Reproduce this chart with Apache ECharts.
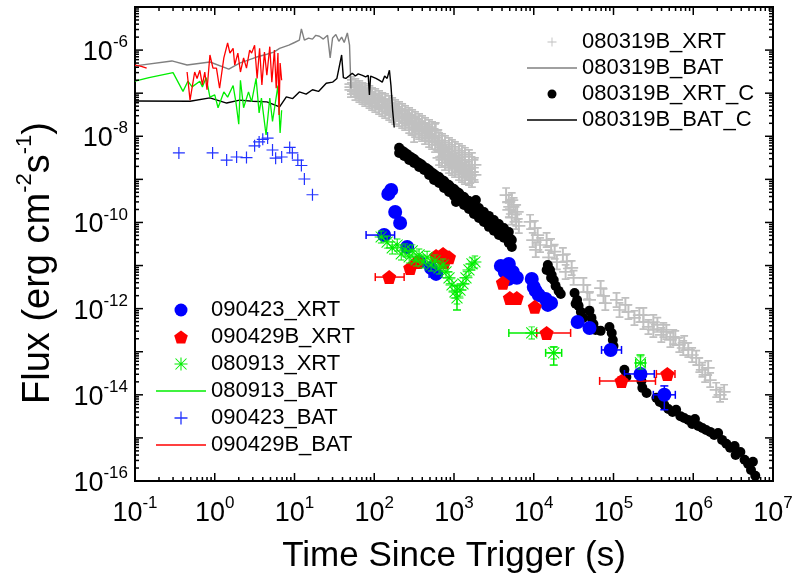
<!DOCTYPE html>
<html><head><meta charset="utf-8">
<script src="https://cdn.jsdelivr.net/npm/echarts@6/dist/echarts.min.js"></script>
<style>html,body{margin:0;padding:0;background:#fff}#c{width:794px;height:584px}</style>
</head><body><div id="c"></div>
<script>
// ---------------- data (time in s, flux in erg cm^-2 s^-1) ----------------
const xTickValues = [1e-1, 1e0, 1e1, 1e2, 1e3, 1e4, 1e5, 1e6, 1e7];
const yTickValues = [1e-16, 1e-14, 1e-12, 1e-10, 1e-8, 1e-6];

const bat080319B = [[0.1,4.3e-7],[0.29,5.6e-7],[0.45,4.5e-7],[0.87,5.3e-7],[1.5,3.6e-7],[2.05,5.0e-7],[3.35,6.9e-7],[4.5,8e-7],[5.5,9e-7],[6.5,1.1e-6],[8.5,1.3e-6],[10,1.5e-6],[11.5,1.7e-6],[12.2,3.1e-6],[13.3,1.7e-6],[15,1.9e-6],[16.8,1.8e-6],[18.5,2.2e-6],[20.5,2.1e-6],[23,1.8e-6],[26,2.2e-6],[28,6.6e-7],[30,1.9e-6],[33,2.3e-6],[36,1.6e-6],[39,2.0e-6],[42,1.5e-6],[46,2.5e-6],[49,1.3e-6],[51,1.3e-7]];

const batC080319B = [[0.1,6.6e-8],[0.49,6.5e-8],[0.87,7.8e-8],[1.41,5.9e-8],[2.05,6.9e-8],[3.0,6.5e-8],[4.5,6.3e-8],[6.5,4.8e-8],[7.9,8.2e-8],[9.5,7.5e-8],[11.5,1.07e-7],[14,9.5e-8],[16.8,1.2e-7],[20,1.1e-7],[25,1.7e-7],[30,1.8e-7],[34,2.2e-7],[39,7.7e-7],[41,2.3e-7],[44,2.2e-7],[48,2.5e-7],[53,2.9e-7],[58,2.5e-7],[63,2.8e-7],[71,2.6e-7],[78,2.4e-7],[84,2.6e-7],[87,9.1e-8],[90,2.5e-7],[95,2.6e-7],[105,2.2e-7],[115,2.0e-7],[126,1.8e-7],[135,2.5e-7],[145,2.2e-7],[155,3.4e-7],[162,1.5e-7],[170,4e-8],[178,1.6e-8]];

const bat080913 = [[0.1,1.9e-7],[0.15,2.3e-7],[0.3,3.0e-7],[0.4,1.1e-7],[0.46,1.9e-7],[0.52,1.4e-7],[0.65,1.9e-7],[0.7,1.4e-7],[0.78,2.3e-7],[0.87,8.1e-8],[1.0,9.1e-8],[1.1,4.6e-8],[1.3,1.07e-7],[1.45,8.1e-8],[1.7,1.5e-7],[1.85,5.9e-8],[2.0,1.9e-8],[2.1,2.0e-7],[2.3,4.6e-8],[2.65,1.07e-7],[2.9,6.3e-8],[3.3,2.2e-7],[3.6,3.5e-8],[3.85,7.7e-8],[4.3,1.5e-8],[4.4,1.07e-8],[4.9,7.7e-8],[5.3,2.2e-8],[6.2,1.5e-7],[6.6,1.2e-8],[6.9,4e-8]];

const bat090429B = [[0.1,4.5e-7],[0.12,4.2e-7],[0.14,3.8e-7],[0.2,'-'],[0.45,3.1e-7],[0.49,6.9e-8],[0.56,3.1e-7],[0.6,2.2e-7],[0.65,3.4e-7],[0.7,1.55e-7],[0.75,3.1e-7],[0.8,1.2e-7],[0.87,7.7e-7],[0.95,3.8e-7],[1.05,3.8e-7],[1.15,1.3e-7],[1.3,6.6e-7],[1.45,1.46e-6],[1.55,8.5e-7],[1.7,1.1e-6],[1.78,4.5e-7],[1.95,8.5e-7],[2.1,3.1e-7],[2.3,6.6e-7],[2.5,3.8e-7],[2.74,1.0e-6],[2.9,8.5e-7],[3.16,1.3e-6],[3.4,2.2e-7],[3.65,1.1e-6],[3.9,1.55e-7],[4.2,9e-7],[4.5,2.6e-7],[4.9,1.2e-6],[5.2,1.8e-7],[5.6,1.0e-6],[5.9,1.3e-7],[6.2,8.5e-7],[6.4,3.1e-8],[6.6,5e-7],[6.9,2.0e-7]];

const bat090423 = [[0.355,4.1e-9],[0.94,4.1e-9],[1.41,2.8e-9],[1.88,3.3e-9],[2.5,3.2e-9],[3.16,6.0e-9],[3.6,7.4e-9],[4.0,8.5e-9],[4.6,9.1e-9],[5.3,4.8e-9],[5.8,3.1e-9],[6.9,3.3e-9],[8.7,5.5e-9],[9.4,4.1e-9],[11.0,2.8e-9],[12.2,2.1e-9],[13.3,1.02e-9],[16.8,4.4e-10]];

const xrt080319B = [
 [51,1.63e-7],[51,1.39e-7],[51,1.19e-7],[58,1.47e-7],[58,1.22e-7],[58,1.01e-7],[60,1.2e-7],[65,1.32e-7],[65,1.1e-7],[65,9.1e-8],
 [71,1.19e-7],[71,9.9e-8],[71,8.2e-8],[77,1.12e-7],[77,9.0e-8],[77,7.3e-8],[82,9e-8],[87,1.01e-7],[87,8.2e-8],[87,6.6e-8],
 [94,9.1e-8],[94,7.3e-8],[94,5.9e-8],[103,8.6e-8],[103,6.8e-8],[103,5.3e-8],[110,6.6e-8],[115,7.7e-8],[115,6.1e-8],[115,4.8e-8],
 [126,6.95e-8],[126,5.5e-8],[126,4.3e-8],[137,6.6e-8],[137,5.0e-8],[137,3.86e-8],[145,5e-8],
 [154,5.9e-8],[154,4.5e-8],[154,3.47e-8],[168,5.3e-8],[168,4.1e-8],[168,3.12e-8],[183,4.8e-8],[183,3.7e-8],[183,2.8e-8],[190,3.9e-8],
 [205,4.3e-8],[205,3.3e-8],[205,2.52e-8],[224,3.86e-8],[224,2.95e-8],[224,2.26e-8],[244,3.47e-8],[244,2.66e-8],[244,2.04e-8],[260,2.8e-8],
 [274,3.12e-8],[274,2.32e-8],[274,1.73e-8],[299,2.8e-8],[299,2.09e-8],[299,1.56e-8],[316,1.07e-8],[325,2.52e-8],[325,1.88e-8],[325,1.40e-8],[340,2.0e-8],
 [365,2.26e-8],[365,1.69e-8],[365,1.26e-8],[398,2.04e-8],[398,1.52e-8],[398,1.13e-8],[434,1.83e-8],[434,1.33e-8],[434,9.6e-9],[460,1.3e-8],
 [487,1.64e-8],[487,1.16e-8],[487,8.2e-9],[531,1.48e-8],[531,1.05e-8],[531,7.4e-9],[579,1.33e-8],[579,9.2e-9],[579,6.3e-9],[590,1.4e-8],
 [620,7e-9],[649,8.2e-9],[649,4.8e-9],[649,3.14e-9],[680,5e-9],[708,7.8e-9],[708,4.32e-9],[708,2.82e-9],[740,4.2e-9],
 [772,7.0e-9],[772,3.7e-9],[772,2.40e-9],[820,3.6e-9],[866,6.3e-9],[866,3.31e-9],[866,2.05e-9],[900,3.0e-9],
 [944,5.65e-9],[944,2.97e-9],[944,1.84e-9],[990,2.6e-9],[1029,5.07e-9],[1029,2.67e-9],[1029,1.65e-9],[1090,2.2e-9],
 [1155,4.56e-9],[1155,2.40e-9],[1155,1.41e-9],[1200,1.9e-9],[1259,4.1e-9],[1259,2.16e-9],[1259,1.27e-9],[1300,1.6e-9],
 [1372,3.7e-9],[1372,1.94e-9],[1372,1.14e-9],[1450,1.4e-9],[1540,3.31e-9],[1540,1.74e-9],[1540,1.08e-9],[1600,1.2e-9],
 [1679,2.82e-9],[1679,1.49e-9],[1679,9.7e-10],[1830,2.16e-9],[1830,1.27e-9],
 [4500,4.3e-10],[5300,3.3e-10],[5600,2.55e-10],[4870,1.95e-10],[6200,1.75e-10],[5300,1.3e-10],[6000,1.03e-10],[6500,8.3e-11],[4870,3.0e-10],[5900,1.57e-10],[5000,2.3e-10],
 [9000,1.03e-10],[10300,7.4e-11],[11200,5.1e-11],[9700,3.9e-11],[12000,3.0e-11],[10600,2.3e-11],
 [14500,3.9e-11],[16500,2.85e-11],[18300,2.1e-11],[15400,1.55e-11],[19500,1.2e-11],
 [23200,1.76e-11],[26000,1.25e-11],[29900,8.8e-12],[25100,7.1e-12],[31600,5.2e-12],
 [42000,3.55e-12],[47000,2.44e-12],[50000,1.59e-12],
 [69000,3.0e-12],[75000,1.97e-12],[79000,1.35e-12],
 [1.09e5,1.59e-12],[1.19e5,9.3e-13],[1.41e5,1.22e-12],[1.54e5,8.4e-13],[1.83e5,6.1e-13],[2.11e5,7.1e-13],
 [2.37e5,4.9e-13],[2.37e5,7.1e-13],[2.74e5,3.76e-13],[3.16e5,3.2e-13],[3.16e5,4.9e-13],[3.55e5,4.2e-13],
 [3.98e5,2.45e-13],[4.22e5,3.2e-13],[4.6e5,2.88e-13],[5.16e5,1.88e-13],[5.62e5,2.2e-13],[5.96e5,2.09e-13],
 [6.68e5,1.44e-13],[7.5e5,1.22e-13],[7.7e5,1.6e-13],[8.66e5,1.10e-13],[9.7e5,8.4e-14],[1.09e6,7.2e-14],
 [1.19e6,4.9e-14],[1.3e6,3.8e-14],[1.41e6,2.9e-14],[1.54e6,4.2e-14],[1.63e6,2.2e-14],[1.94e6,1.3e-14],
 [2.17e6,1.0e-14],[2.44e6,1.17e-14]
];

const xrtC080319B = [
 [205,5.4e-9],[205,4.1e-9],[220,4.7e-9],[237,4.32e-9],[237,3.49e-9],[255,3.9e-9],[274,3.49e-9],[274,2.82e-9],[295,3.2e-9],[316,2.97e-9],[316,2.40e-9],
 [340,2.6e-9],[365,2.40e-9],[365,1.94e-9],[393,2.2e-9],[422,1.94e-9],[422,1.65e-9],[455,1.8e-9],[487,1.65e-9],[487,1.27e-9],[525,1.45e-9],[562,1.33e-9],[562,9.7e-10],
 [605,1.2e-9],[649,1.14e-9],[649,8.2e-10],[700,9.8e-10],[750,9.2e-10],[750,6.3e-10],[805,7.9e-10],[866,7.4e-10],[866,5.1e-10],[930,6.4e-10],[1000,6.0e-10],[1000,4.1e-10],
 [1060,2.99e-10],[1075,5.2e-10],[1155,4.8e-10],[1155,3.3e-10],[1245,4.1e-10],[1334,3.9e-10],[1334,2.55e-10],[1440,3.3e-10],[1540,3.15e-10],[1540,2.55e-10],[1540,2.06e-10],
 [1660,2.65e-10],[1778,2.55e-10],[1778,1.57e-10],[1880,3.3e-10],[1915,2.1e-10],[2054,2.17e-10],[2054,1.66e-10],[2054,1.27e-10],[2210,1.65e-10],[2371,1.75e-10],[2371,1.03e-10],
 [2550,1.3e-10],[2738,1.42e-10],[2738,1.08e-10],[2738,7.9e-11],[2950,1.0e-10],[3162,1.14e-10],[3162,6.4e-11],[3400,8.0e-11],[3652,9.2e-11],[3652,6.7e-11],[3652,5.1e-11],
 [3930,6.3e-11],[4217,7.4e-11],[4217,4.4e-11],[4540,5.0e-11],[4870,6.0e-11],[4870,4.4e-11],[4870,3.35e-11],[5100,4.2e-11],[5309,3.9e-11],[5309,2.7e-11],
 [14500,7.9e-12],[15000,1.03e-11],[16000,7.9e-12],[16500,5.2e-12],[16800,6.05e-12],[17800,4.6e-12],[18800,3.37e-12],[20500,2.58e-12],[21800,2.19e-12],
 [32500,2.31e-12],[33500,1.3e-12],[35000,1.59e-12],[36500,1.16e-12],[39000,8.4e-13],[41500,6.1e-13],
 [50000,8.9e-13],[53000,6.1e-13],[56000,4.4e-13],[59600,3.2e-13],[69000,3.05e-13],
 [89000,3.76e-13],[95000,2.73e-13],[98000,1.88e-13],[1.0e5,1.36e-13],
 [1.37e5,3.8e-14],[1.45e5,2.6e-14],[2.24e5,2.1e-14],[2.3e5,1.45e-14],[2.6e5,1.1e-14],
 [3.45e5,8.5e-15],[3.8e5,6.8e-15],[4.34e5,5.8e-15],[4.87e5,4.7e-15],[5.5e5,4.0e-15],[6.1e5,4.5e-15],[6.9e5,3.2e-15],
 [7.7e5,2.9e-15],[8.66e5,2.6e-15],[9.7e5,2.1e-15],[1.05e6,2.75e-15],[1.155e6,1.9e-15],[1.3e6,1.7e-15],[1.45e6,1.53e-15],
 [1.63e6,1.38e-15],[1.83e6,1.17e-15],[2.05e6,1.3e-15],[2.3e6,9.0e-16],[2.6e6,7.3e-16],[2.9e6,5.9e-16],[3.3e6,6.5e-16],
 [3.4e6,4.0e-16],[3.9e6,4.7e-16],[4.4e6,3.1e-16],[4.87e6,2.5e-16],[5.3e6,1.8e-16],[5.6e6,2.8e-16],[6.0e6,1.33e-16]
];

const xrt090423 = [[150,4.6e-10],[163,5.7e-10],[183,1.75e-10],[211,9.7e-11],[133,5.1e-11],[259,2.7e-11],[365,1.21e-11],[516,8.8e-12],[596,6.4e-12],
 [3868,9.8e-12],[4870,1.09e-11],[4340,7.1e-12],[5464,7.1e-12],[6131,5.2e-12],[4870,4.9e-12],
 [9441,4.9e-12],[10000,3.19e-12],[10600,2.58e-12],[11550,2.08e-12],[14100,1.68e-12],[15000,1.22e-12],[16500,1.35e-12],
 [35500,4.9e-13],[50000,3.56e-13],[92000,1.10e-13],[2.18e5,3.05e-14],[4.34e5,1.0e-14]];
// [t, flux, tLow, tHigh, fluxLow, fluxHigh]
const err090423 = [[133,5.1e-11,79,180,null,null],[596,6.4e-12,487,700,null,null],[92000,1.10e-13,70800,1.26e5,null,null],[2.18e5,3.05e-14,1.37e5,3.25e5,null,null],[4.34e5,1.0e-14,3.16e5,5.96e5,4.5e-15,1.61e-14]];

const xrt090429B = [[154,5.4e-12],[282,8.8e-12],[345,1.21e-11],[596,1.67e-11],[729,1.86e-11],[866,1.55e-11],[750,1.2e-11],
 [4098,4.0e-12],[5012,1.77e-12],[6131,1.77e-12],[10300,1.1e-12],[14500,2.73e-13],[1.26e5,2.1e-14],[4.73e5,3.05e-14]];
const err090429B = [[154,5.4e-12,103,237,null,null],[14500,2.73e-13,10900,29000,null,null],[1.26e5,2.1e-14,67000,3.36e5,1.6e-14,2.6e-14],[4.73e5,3.05e-14,3.45e5,5.9e5,null,null]];

const xrt080913 = [[122,4.6e-11],[145,3.5e-11],[168,2.57e-11],[194,3.0e-11],[218,1.86e-11],[244,2.3e-11],[274,1.58e-11],[299,2.18e-11],
 [335,1.35e-11],[365,1.76e-11],[410,1.21e-11],[460,1.55e-11],[516,1.03e-11],[579,1.28e-11],[649,8.8e-12],[729,1.03e-11],
 [794,7.1e-12],[866,5.2e-12],[944,3.55e-12],[1029,2.44e-12],[1090,1.77e-12],[1189,2.7e-12],[1296,3.74e-12],[1413,5.2e-12],
 [1540,7.9e-12],[1679,1.09e-11],[1830,1.21e-11],[9441,2.73e-13],[17800,9.4e-14],[2.18e5,5.5e-14]];
const err080913 = [[9441,2.73e-13,4870,14100,null,null],[17800,9.4e-14,14100,22400,4.9e-14,1.29e-13],[2.18e5,5.5e-14,1.9e5,2.5e5,3.4e-14,8.4e-14],[1090,1.77e-12,null,null,9.3e-13,3.37e-12]];

// ---------------- styling ----------------
const SANS = '"Liberation Sans",Arial,sans-serif';
const X_MIN = 0.1, X_MAX = 1e7, Y_MIN = 1e-16, Y_MAX = 1e-5;
const PLUS = 'path://M9,0H11V20H9Z M0,9H20V11H0Z';
const GRAYBAR = 'path://M8.5,0H11.5V28H8.5Z M4,0H16V3H4Z M4,25H16V28H4Z M0,12.5H20V15.5H0Z';
const STAR = 'path://M9.2,0H10.8V20H9.2Z M0,9.2H20V10.8H0Z M1,2.1L2.1,1L19,17.9L17.9,19Z M17.9,1L19,2.1L2.1,19L1,17.9Z';
const STARBAR = 'path://M9.2,0H10.8V20H9.2Z M0,9.2H20V10.8H0Z M1,2.1L2.1,1L19,17.9L17.9,19Z M17.9,1L19,2.1L2.1,19L1,17.9Z M5,0H15V1.4H5Z M5,18.6H15V20H5Z';
const PENTA = 'path://M10,0L19.5,6.9L15.9,18.1L4.1,18.1L0.5,6.9Z';
const LINEICON = 'path://M0,0H50V1.5H0Z';

const chart = echarts.init(document.getElementById('c'), null, {renderer: 'canvas'});

function labelFmt(skipOdd) {
  return function (v) {
    const e = Math.round(Math.log10(v));
    if (skipOdd && Math.abs(e) % 2 === 1) return '';
    return '{b|10}{s|' + e + '}';
  };
}
const tickRich = {
  b: {fontFamily: SANS, fontSize: 27, lineHeight: 32, verticalAlign: 'bottom', color: '#000'},
  s: {fontFamily: SANS, fontSize: 17, lineHeight: 14, verticalAlign: 'top', color: '#000'}
};

function errRender(arr, color) {
  return function (params, api) {
    const e = arr[params.dataIndex];
    const c = api.coord([e[0], e[1]]);
    const st = {stroke: color, lineWidth: 1.5};
    const cap = 4, ch = [];
    const ln = (x1, y1, x2, y2) => ch.push({type: 'line', shape: {x1, y1, x2, y2}, style: st});
    if (e[2] != null) {
      const a = api.coord([e[2], e[1]])[0], b = api.coord([e[3], e[1]])[0];
      ln(a, c[1], b, c[1]); ln(a, c[1] - cap, a, c[1] + cap); ln(b, c[1] - cap, b, c[1] + cap);
    }
    if (e[4] != null) {
      const a = api.coord([e[0], e[4]])[1], b = api.coord([e[0], e[5]])[1];
      ln(c[0], a, c[0], b); ln(c[0] - cap, a, c[0] + cap, a); ln(c[0] - cap, b, c[0] + cap, b);
    }
    return {type: 'group', children: ch};
  };
}
function errSeries(name, arr, color) {
  return {type: 'custom', name, data: arr.map(e => [e[0], e[1]]), renderItem: errRender(arr, color), z: 8, silent: true};
}

function tickRender(params, api) {
  const ch = [];
  const p0 = api.coord([X_MIN, Y_MIN]), p1 = api.coord([X_MAX, Y_MAX]);
  const left = p0[0], bottom = p0[1], right = p1[0], top = p1[1];
  const st = {stroke: '#000', lineWidth: 1.5};
  const ln = (x1, y1, x2, y2) => ch.push({type: 'line', shape: {x1, y1, x2, y2}, style: st});
  const MAJ = 8, MIN = 4;
  for (let e = -1; e <= 7; e++) {
    for (let k = 1; k <= 9; k++) {
      const v = k * Math.pow(10, e);
      if (v > X_MAX * 1.0001) break;
      const x = api.coord([v, Y_MIN])[0];
      const L = k === 1 ? MAJ : MIN;
      ln(x, bottom, x, bottom - L); ln(x, top, x, top + L);
    }
  }
  for (let e = -16; e <= -5; e++) {
    for (let k = 1; k <= 9; k++) {
      const v = k * Math.pow(10, e);
      if (v > Y_MAX * 1.0001) break;
      const y = api.coord([X_MIN, v])[1];
      const L = k === 1 ? MAJ : MIN;
      ln(left, y, left + L, y); ln(right, y, right - L, y);
    }
  }
  return {type: 'group', children: ch};
}

const solid = c => ({color: c, opacity: 1});

const option = {
  animation: false,
  backgroundColor: '#fff',
  grid: {left: 135, right: 21, top: 7, bottom: 103, show: true, borderColor: '#000', borderWidth: 2, containLabel: false, outerBoundsMode: 'none'},
  xAxis: {
    type: 'log', logBase: 10, min: X_MIN, max: X_MAX, interval: 1,
    axisLine: {show: true, lineStyle: {color: '#000', width: 2}},
    axisTick: {show: false}, splitLine: {show: false}, minorTick: {show: false},
    axisLabel: {formatter: labelFmt(false), rich: tickRich, margin: 14, showMinLabel: true, showMaxLabel: true, hideOverlap: false, color: '#000', customValues: xTickValues},
    name: 'Time Since Trigger (s)', nameLocation: 'middle', nameGap: 58,
    nameTextStyle: {fontFamily: SANS, fontSize: 35, color: '#000'}
  },
  yAxis: {
    type: 'log', logBase: 10, min: Y_MIN, max: Y_MAX, interval: 1,
    axisLine: {show: true, lineStyle: {color: '#000', width: 2}},
    axisTick: {show: false}, splitLine: {show: false}, minorTick: {show: false},
    axisLabel: {formatter: labelFmt(true), rich: tickRich, margin: 7, showMinLabel: true, showMaxLabel: true, hideOverlap: false, color: '#000', customValues: yTickValues},
    name: '{t|Flux (erg cm}{s|-2}{t|s}{s|-1}{t|)}', nameLocation: 'middle', nameRotate: 90, nameGap: 77,
    nameTextStyle: {color: '#000', padding: [0, 38, 0, 0], rich: {
      t: {fontFamily: SANS, fontSize: 38, lineHeight: 44, verticalAlign: 'bottom', color: '#000'},
      s: {fontFamily: SANS, fontSize: 22, lineHeight: 18, verticalAlign: 'top', color: '#000'}
    }}
  },
  legend: [
    {
      orient: 'vertical', left: 527, top: 31, padding: 0, itemWidth: 50, itemHeight: 9, itemGap: 4, selectedMode: false,
      textStyle: {fontFamily: SANS, fontSize: 22, color: '#000'},
      data: [{name: '080319B_XRT', icon: PLUS}, {name: '080319B_BAT', icon: LINEICON}, {name: '080319B_XRT_C', icon: 'circle'}, {name: '080319B_BAT_C', icon: LINEICON}]
    },
    {
      orient: 'vertical', left: 156, top: 299, padding: 0, itemWidth: 50, itemHeight: 13, itemGap: 5, selectedMode: false,
      textStyle: {fontFamily: SANS, fontSize: 22, color: '#000'},
      data: [{name: '090423_XRT', icon: 'circle'}, {name: '090429B_XRT', icon: PENTA}, {name: '080913_XRT', icon: STAR}, {name: '080913_BAT', icon: LINEICON}, {name: '090423_BAT', icon: PLUS}, {name: '090429B_BAT', icon: LINEICON}]
    }
  ],
  series: [
    {type: 'scatter', name: '080319B_XRT', data: xrt080319B, symbol: GRAYBAR, symbolSize: [13, 16], itemStyle: solid('#c0c0c0'), z: 2, silent: true},
    {type: 'line', name: '080319B_BAT', data: bat080319B, symbol: 'none', showSymbol: false, lineStyle: {color: '#808080', width: 1.4}, itemStyle: solid('#808080'), z: 3, silent: true},
    {type: 'scatter', name: '080319B_XRT_C', data: xrtC080319B, symbol: 'circle', symbolSize: 10, itemStyle: solid('#000'), z: 4, silent: true},
    {type: 'line', name: '080319B_BAT_C', data: batC080319B, symbol: 'none', showSymbol: false, lineStyle: {color: '#000', width: 1.4}, itemStyle: solid('#000'), z: 5, silent: true},
    {type: 'line', name: '080913_BAT', data: bat080913, symbol: 'none', showSymbol: false, lineStyle: {color: '#00ee00', width: 1.3}, itemStyle: solid('#00ee00'), z: 6, silent: true},
    {type: 'line', name: '090429B_BAT', data: bat090429B, symbol: 'none', showSymbol: false, connectNulls: false, lineStyle: {color: '#ff0000', width: 1.3}, itemStyle: solid('#ff0000'), z: 7, silent: true},
    {type: 'scatter', name: '090423_BAT', data: bat090423, symbol: PLUS, symbolSize: 12, itemStyle: solid('#2233ff'), z: 8, silent: true},
    errSeries('err_090423', err090423, '#0000ff'),
    errSeries('err_090429B', err090429B, '#ff0000'),
    errSeries('err_080913', err080913, '#00ee00'),
    {type: 'scatter', name: '090423_XRT', data: xrt090423, symbol: 'circle', symbolSize: 14, itemStyle: solid('#0000ff'), z: 9, silent: true},
    {type: 'scatter', name: '090429B_XRT', data: xrt090429B, symbol: PENTA, symbolSize: 14, itemStyle: solid('#ff0000'), z: 10, silent: true},
    {type: 'scatter', name: '080913_XRT', data: xrt080913, symbol: STARBAR, symbolSize: 13, itemStyle: solid('#00ee00'), z: 11, silent: true},
    {type: 'custom', name: 'ticks', data: [[1, 1e-10]], renderItem: tickRender, z: 20, silent: true}
  ]
};
chart.setOption(option);
</script></body></html>
